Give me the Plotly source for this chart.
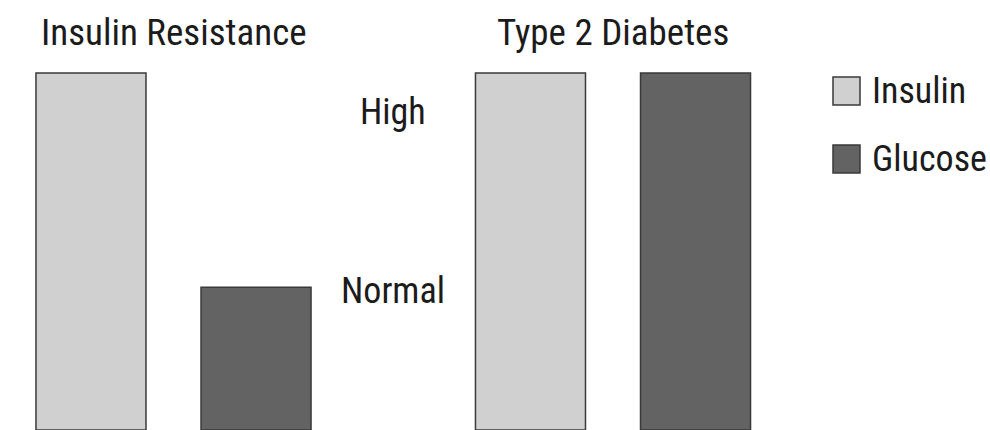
import plotly.graph_objects as go

# Groups and measured levels (High = 100, Normal = 40)
groups = ["Insulin Resistance", "Type 2 Diabetes"]
insulin = [100, 100]
glucose = [40, 100]
level_labels = ["High", "Normal"]
level_values = [100, 40]
series_names = ["Insulin", "Glucose"]

light = "#d0d0d0"
dark = "#636363"
edge = "#3a3a3a"
text_color = "#1b1b1b"
font_family = "Roboto Condensed, DejaVu Sans Condensed, DejaVu Sans, sans-serif"
font_weight = 400

fig = go.Figure()
for name, vals, color in zip(series_names, [insulin, glucose], [light, dark]):
    fig.add_trace(go.Bar(
        x=list(range(len(groups))), y=vals, name=name,
        marker=dict(color=color, line=dict(color=edge, width=1.5)),
        showlegend=False,
    ))

# Group headings above each pair of bars
for i, g in enumerate(groups):
    fig.add_annotation(x=i, y=0.925, xref="x", yref="paper", text=g,
                       showarrow=False,
                       font=dict(size=37, color=text_color, weight=font_weight),
                       xanchor="center", yanchor="middle")

# Level labels between the two groups
for lab, val in zip(level_labels, level_values):
    fig.add_annotation(x=0.5, y=val, xref="x", yref="y", text=lab,
                       showarrow=False,
                       font=dict(size=36, color=text_color, weight=font_weight),
                       xanchor="center", yanchor="top" if lab == "High" else "middle",
                       yshift=-16 if lab == "High" else -4)

# Legend drawn as swatches with text
for k, (name, color) in enumerate(zip(series_names, [light, dark])):
    y_top = 1 - (77 + 68 * k) / 430
    y_bot = 1 - (105 + 68 * k) / 430
    fig.add_shape(type="rect", xref="paper", yref="paper",
                  x0=833 / 990, x1=860 / 990, y0=y_bot, y1=y_top,
                  fillcolor=color, line=dict(color=edge, width=1.5))
    fig.add_annotation(x=870 / 990, y=(y_top + y_bot) / 2, xref="paper", yref="paper",
                       text=name, showarrow=False, xanchor="left", yanchor="middle",
                       font=dict(size=36, color=text_color, weight=font_weight))

px_per_unit = 439.5
x0 = -173.5 / px_per_unit
fig.update_layout(
    width=990, height=430,
    margin=dict(l=0, r=0, t=0, b=0),
    paper_bgcolor="white", plot_bgcolor="white",
    barmode="group", bargap=0.249, bargroupgap=1 / 3,
    font=dict(family=font_family, color=text_color),
    xaxis=dict(range=[x0, x0 + 990 / px_per_unit], visible=False),
    yaxis=dict(range=[0, 100 * 430 / 357], visible=False),
)

fig.write_html("out.html")
